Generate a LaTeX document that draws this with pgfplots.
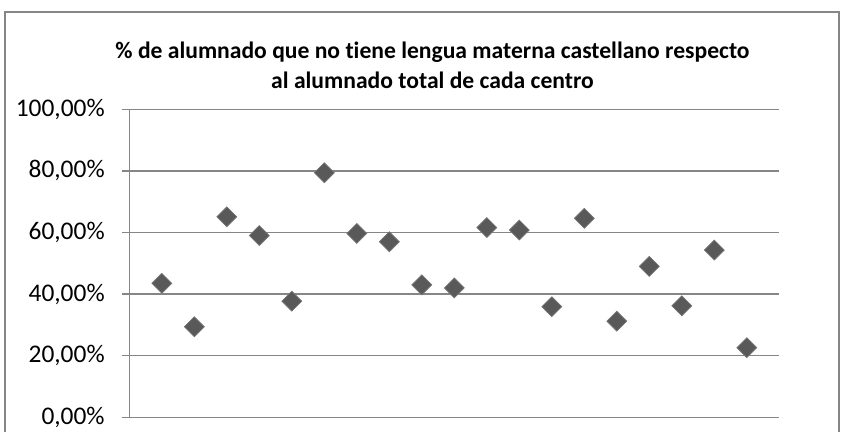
\documentclass[border=0pt]{standalone}
\usepackage{fontspec}
\setmainfont{Carlito}[Ligatures=NoCommon]
\usepackage{pgfplots}
\pgfplotsset{compat=1.18}
\definecolor{gridgray}{RGB}{134,134,134}
\definecolor{markgray}{RGB}{89,89,89}

\begin{document}
\begin{tikzpicture}[x=1pt,y=1pt]
% chart frame (bottom runs off the page, as in the original)
\draw[gridgray, line width=0.75pt] (-62.15,-20) rectangle (354.85,202.65);
\begin{axis}[
    at={(0,0)}, anchor=south west,
    scale only axis,
    width=325pt, height=154pt,
    xmin=0, xmax=20, ymin=0, ymax=100,
    axis x line=none,
    axis y line=left,
    axis line style={gridgray, line width=0.75pt, -},
    ytick={0,20,...,100},
    yticklabels={{0,00\%},{20,00\%},{40,00\%},{60,00\%},{80,00\%},{100,00\%}},
    tick align=outside,
    major tick length=3.8pt,
    tick style={gridgray, line width=0.75pt},
    ymajorgrids,
    grid style={gridgray, line width=0.75pt},
    yticklabel style={font=\fontsize{12.7}{14}\selectfont, text=black, xshift=-5pt},
    clip=false,
]
\addplot[only marks, mark=square*, mark size=3.5pt,
    mark options={rotate=45, fill=markgray, draw=markgray!85!white, line width=0.4pt}]
coordinates {
(1,43.5) (2,29.4) (3,65.1) (4,59.0) (5,37.7) (6,79.4) (7,59.7) (8,57.0)
(9,43.0) (10,42.0) (11,61.6) (12,60.8) (13,35.9) (14,64.6) (15,31.2)
(16,49.0) (17,36.2) (18,54.3) (19,22.6)
};
\end{axis}
\node[font=\bfseries\fontsize{11.8}{15}\selectfont, align=center] at (151.6,176)
  {\% de alumnado que no tiene lengua materna castellano respecto\\al alumnado total de cada centro};
\pgfresetboundingbox
\useasboundingbox (-64.65,-7.35) rectangle (357.85,208.65);
\end{tikzpicture}
\end{document}
